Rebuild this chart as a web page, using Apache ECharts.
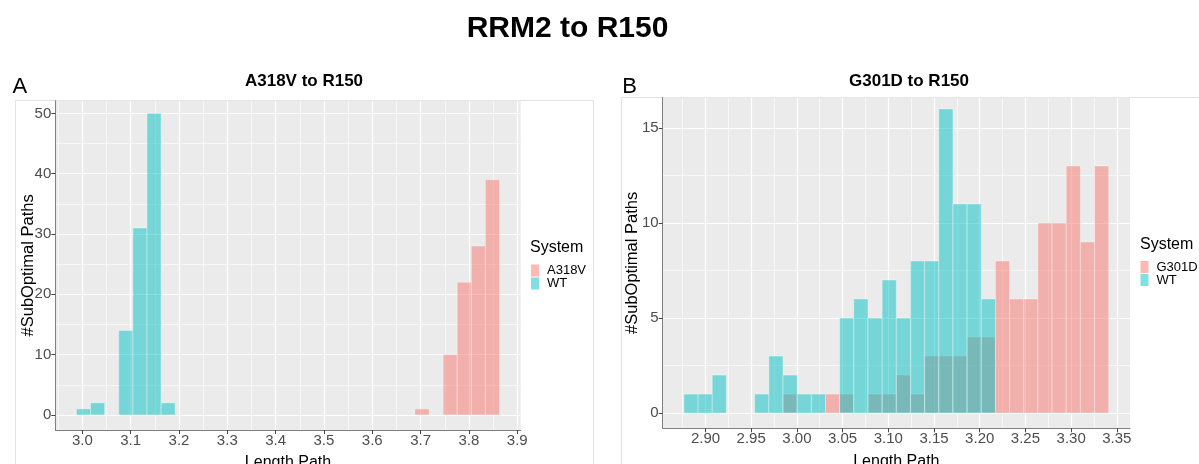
<!DOCTYPE html>
<html>
<head>
<meta charset="utf-8">
<script src="https://cdn.jsdelivr.net/npm/echarts@6.0.0/dist/echarts.min.js"></script>
<style>
html, body { margin: 0; padding: 0; background: #fff; }
#main { width: 1199px; height: 464px; }
</style>
</head>
<body>
<div id="main"></div>
<script>
// histogram bins, 30 per panel (ggplot default)
var binStartA = 2.9879, binWidthA = 0.02918;
var countsWTA   = [1, 2, 0, 14, 31, 50, 2, 0, 0, 0, 0, 0, 0, 0, 0, 0, 0, 0, 0, 0, 0, 0, 0, 0, 0, 0, 0, 0, 0, 0];
var countsA318V = [0, 0, 0, 0, 0, 0, 0, 0, 0, 0, 0, 0, 0, 0, 0, 0, 0, 0, 0, 0, 0, 0, 0, 0, 1, 0, 10, 22, 28, 39];

var binStartB = 2.8764, binWidthB = 0.01549;
var countsWTB   = [1, 1, 2, 0, 0, 1, 3, 2, 1, 1, 0, 5, 6, 5, 7, 5, 8, 8, 16, 11, 11, 6, 0, 0, 0, 0, 0, 0, 0, 0];
var countsG301D = [0, 0, 0, 0, 0, 0, 0, 1, 0, 0, 1, 1, 0, 1, 1, 2, 1, 3, 3, 3, 4, 4, 8, 6, 6, 10, 10, 13, 9, 13];

var xTicksA = [3.0, 3.1, 3.2, 3.3, 3.4, 3.5, 3.6, 3.7, 3.8, 3.9];
var yTicksA = [0, 10, 20, 30, 40, 50];
var xTicksB = [2.90, 2.95, 3.00, 3.05, 3.10, 3.15, 3.20, 3.25, 3.30, 3.35];
var yTicksB = [0, 5, 10, 15];

var PINK = 'rgba(248,118,109,0.5)';
var TEAL = 'rgba(0,191,196,0.5)';
var FONT = '"Liberation Sans", Arial, sans-serif';

function binData(start, width, counts) {
	var out = [];
	counts.forEach(function(c, i) {
		if (c > 0) out.push([start + i * width, start + (i + 1) * width, c]);
	});
	return out;
}

function renderBar(params, api) {
	var p0 = api.coord([api.value(0), api.value(2)]);
	var p1 = api.coord([api.value(1), 0]);
	return {
		type: 'rect',
		shape: { x: p0[0], y: p0[1], width: p1[0] - p0[0], height: p1[1] - p0[1] },
		style: { fill: api.visual('color'), stroke: 'rgba(255,255,255,0.35)', lineWidth: 1 }
	};
}

function histSeries(name, color, idx, data) {
	return {
		name: name,
		type: 'custom',
		xAxisIndex: idx,
		yAxisIndex: idx,
		itemStyle: { color: color },
		encode: { x: [0, 1], y: 2 },
		renderItem: renderBar,
		data: data
	};
}

function xAxisOf(idx, min, max, ticks, digits) {
	return {
		gridIndex: idx, type: 'value', min: min, max: max, splitNumber: 10,
		name: 'Length Path', nameLocation: 'middle', nameGap: 25, nameMoveOverlap: false,
		nameTextStyle: { color: '#000', fontSize: 16 },
		axisLine: { show: true, onZero: false, lineStyle: { color: '#808080', width: 1 } },
		axisTick: { show: true, length: 4, customValues: ticks, lineStyle: { color: '#444' } },
		axisLabel: { customValues: ticks, margin: 3, color: '#4d4d4d', fontSize: 15,
			formatter: function(v) { return v.toFixed(digits); } },
		splitLine: { show: true, lineStyle: { color: '#fff', width: 1.2 } },
		minorTick: { show: false, splitNumber: 2 },
		minorSplitLine: { show: true, lineStyle: { color: '#fff', width: 0.6 } }
	};
}

function yAxisOf(idx, min, max, ticks, split, gap) {
	return {
		gridIndex: idx, type: 'value', min: min, max: max, splitNumber: split,
		name: '#SubOptimal Paths', nameLocation: 'middle', nameGap: gap, nameMoveOverlap: false,
		nameTextStyle: { color: '#000', fontSize: 16.5 },
		axisLine: { show: true, onZero: false, lineStyle: { color: '#808080', width: 1 } },
		axisTick: { show: true, length: 4, customValues: ticks, lineStyle: { color: '#444' } },
		axisLabel: { customValues: ticks, margin: 4, color: '#4d4d4d', fontSize: 15 },
		splitLine: { show: true, lineStyle: { color: '#fff', width: 1.2 } },
		minorTick: { show: false, splitNumber: 2 },
		minorSplitLine: { show: true, lineStyle: { color: '#fff', width: 0.6 } }
	};
}

function label(text, x, y, font) {
	return { type: 'text', x: x, y: y, z: 10,
		style: { text: text, font: font, fill: '#000', textAlign: 'center', textVerticalAlign: 'middle' } };
}

var chart = echarts.init(document.getElementById('main'));
var option = {
	animation: false,
	textStyle: { fontFamily: FONT },
	grid: [
		{ left: 55.3, top: 100.7, width: 465.4, height: 329.3, show: true, backgroundColor: '#EBEBEB', borderWidth: 0,
		  containLabel: false, outerBoundsMode: 'none' },
		{ left: 662.7, top: 97.5, width: 467.3, height: 330.8, show: true, backgroundColor: '#EBEBEB', borderWidth: 0,
		  containLabel: false, outerBoundsMode: 'none' }
	],
	xAxis: [
		xAxisOf(0, 2.9441, 3.9071, xTicksA, 1),
		xAxisOf(1, 2.8532, 3.3644, xTicksB, 2)
	],
	yAxis: [
		yAxisOf(0, -2.5, 52.1, yTicksA, 5, 18.5),
		yAxisOf(1, -0.8, 16.6, yTicksB, 4, 22)
	],
	legend: [
		{ orient: 'vertical', left: 531, top: 264, padding: 0, itemWidth: 8, itemHeight: 12, itemGap: 0,
		  icon: 'rect', selectedMode: false, data: ['A318V', 'WT'],
		  textStyle: { fontSize: 13, color: '#000', lineHeight: 12, padding: [0, 0, 0, 3] } },
		{ orient: 'vertical', left: 1140.5, top: 260.5, padding: 0, itemWidth: 8, itemHeight: 12, itemGap: 0,
		  icon: 'rect', selectedMode: false, data: ['G301D', 'WT'],
		  textStyle: { fontSize: 13, color: '#000', lineHeight: 12, padding: [0, 0, 0, 3] } }
	],
	graphic: [
		{ type: 'rect', z: -1, shape: { x: 15.5, y: 100.5, width: 578, height: 400 },
		  style: { fill: 'none', stroke: '#e2e2e2', lineWidth: 1 } },
		{ type: 'rect', z: -1, shape: { x: 621.5, y: 97.5, width: 600, height: 400 },
		  style: { fill: 'none', stroke: '#e2e2e2', lineWidth: 1 } },
		label('RRM2 to R150', 567.5, 29, 'bold 30px ' + FONT),
		label('A318V to R150', 304, 81.7, 'bold 17px ' + FONT),
		label('G301D to R150', 909, 81.7, 'bold 17px ' + FONT),
		label('A', 19.8, 86.7, '22px ' + FONT),
		label('B', 629.7, 86.8, '22px ' + FONT),
		{ type: 'text', x: 530, y: 247.5, z: 10,
		  style: { text: 'System', font: '16px ' + FONT, fill: '#000', textVerticalAlign: 'middle' } },
		{ type: 'text', x: 1140, y: 244.5, z: 10,
		  style: { text: 'System', font: '16px ' + FONT, fill: '#000', textVerticalAlign: 'middle' } }
	],
	series: [
		histSeries('A318V', PINK, 0, binData(binStartA, binWidthA, countsA318V)),
		histSeries('WT', TEAL, 0, binData(binStartA, binWidthA, countsWTA)),
		histSeries('G301D', PINK, 1, binData(binStartB, binWidthB, countsG301D)),
		histSeries('WT', TEAL, 1, binData(binStartB, binWidthB, countsWTB))
	]
};
chart.setOption(option);
</script>
</body>
</html>
